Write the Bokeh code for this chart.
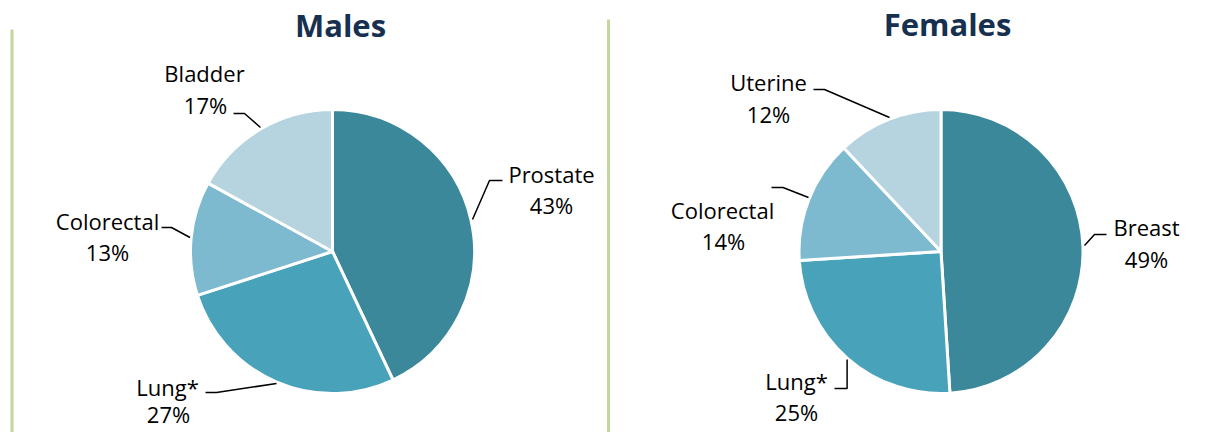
import numpy as np
from bokeh.plotting import figure
from bokeh.models import Range1d, ColumnDataSource
from bokeh.core.properties import value
from bokeh.embed import file_html
from bokeh.resources import INLINE

# ---- data ----
titles = ["Males", "Females"]
male_sites = ["Prostate", "Lung*", "Colorectal", "Bladder"]
male_pct = [43, 27, 13, 17]
female_sites = ["Breast", "Lung*", "Colorectal", "Uterine"]
female_pct = [49, 25, 14, 12]

# ---- styles / layout ----
slice_colors = ["#3A8899", "#48A2BA", "#7DB9CF", "#B5D4E0"]
title_color = "#17304F"
divider_color = "#C3D69B"
FONT = "Open Sans"

W, H = 1193, 432


def Y(py):
    return 448 - py


p = figure(width=W, height=H, x_range=Range1d(0, W), y_range=Range1d(448 - H, 448),
           output_backend="svg", toolbar_location=None, min_border=0)
p.axis.visible = False
p.grid.visible = False
p.outline_line_color = None
p.background_fill_color = "white"
p.border_fill_color = "white"

# dividers
p.segment(x0=[11.5, 608], y0=[Y(29), Y(19)], x1=[11.5, 608], y1=[Y(460), Y(460)],
          line_color=divider_color, line_width=3)

layouts = [
    dict(cx=332, cy=251, r=142, title_xy=(340, 24),
         name_xy=[(551, 173), (167, 386), (107, 220), (204, 72)],
         pct_xy=[(551, 204), (168, 413), (107, 251), (205, 104)],
         leaders=[[(502, 180), (489, 180), (472, 219)],
                  [(205, 392), (216, 392), (276, 383)],
                  [(161, 227), (171, 227), (189.5, 237)],
                  [(233, 113), (244, 113), (260, 127)]]),
    dict(cx=940.5, cy=251, r=142, title_xy=(947, 23),
         name_xy=[(1146, 226), (796, 380), (722, 209), (768, 81)],
         pct_xy=[(1146, 258), (796, 411), (723, 240), (768, 113)],
         leaders=[[(1106, 234), (1094, 234), (1084, 245)],
                  [(834, 388), (846.6, 388), (846.6, 359)],
                  [(771, 187), (782.5, 187), (808, 197)],
                  [(813, 89), (824, 89), (889, 117)]]),
]

for title, sites, pct, lay in zip(titles, [male_sites, female_sites], [male_pct, female_pct], layouts):
    frac = np.array(pct, dtype=float) / sum(pct)
    cum = np.cumsum(frac)
    prev = cum - frac
    src = ColumnDataSource(dict(
        start=np.pi / 2 - 2 * np.pi * cum,
        end=np.pi / 2 - 2 * np.pi * prev,
        color=slice_colors,
    ))
    p.wedge(x=lay["cx"], y=Y(lay["cy"]), radius=lay["r"], start_angle="start", end_angle="end",
            fill_color="color", line_color="white", line_width=3, source=src)

    # leader lines
    p.multi_line(xs=[[pt[0] for pt in l] for l in lay["leaders"]],
                 ys=[[Y(pt[1]) for pt in l] for l in lay["leaders"]],
                 line_color="black", line_width=1.5)

    # labels
    p.text(x=[xy[0] for xy in lay["name_xy"]], y=[Y(xy[1]) for xy in lay["name_xy"]],
           text=sites, text_font=value(FONT), text_font_size="22px", text_color="black",
           text_align="center", text_baseline="middle")
    p.text(x=[xy[0] for xy in lay["pct_xy"]], y=[Y(xy[1]) for xy in lay["pct_xy"]],
           text=[f"{v}%" for v in pct], text_font=value(FONT), text_font_size="22px",
           text_color="black", text_align="center", text_baseline="middle")

    # title
    p.text(x=[lay["title_xy"][0]], y=[Y(lay["title_xy"][1])], text=[title],
           text_font=value(FONT), text_font_style="bold", text_font_size="31px",
           text_color=title_color, text_align="center", text_baseline="middle")

open("out.html", "w").write(file_html(p, INLINE))
